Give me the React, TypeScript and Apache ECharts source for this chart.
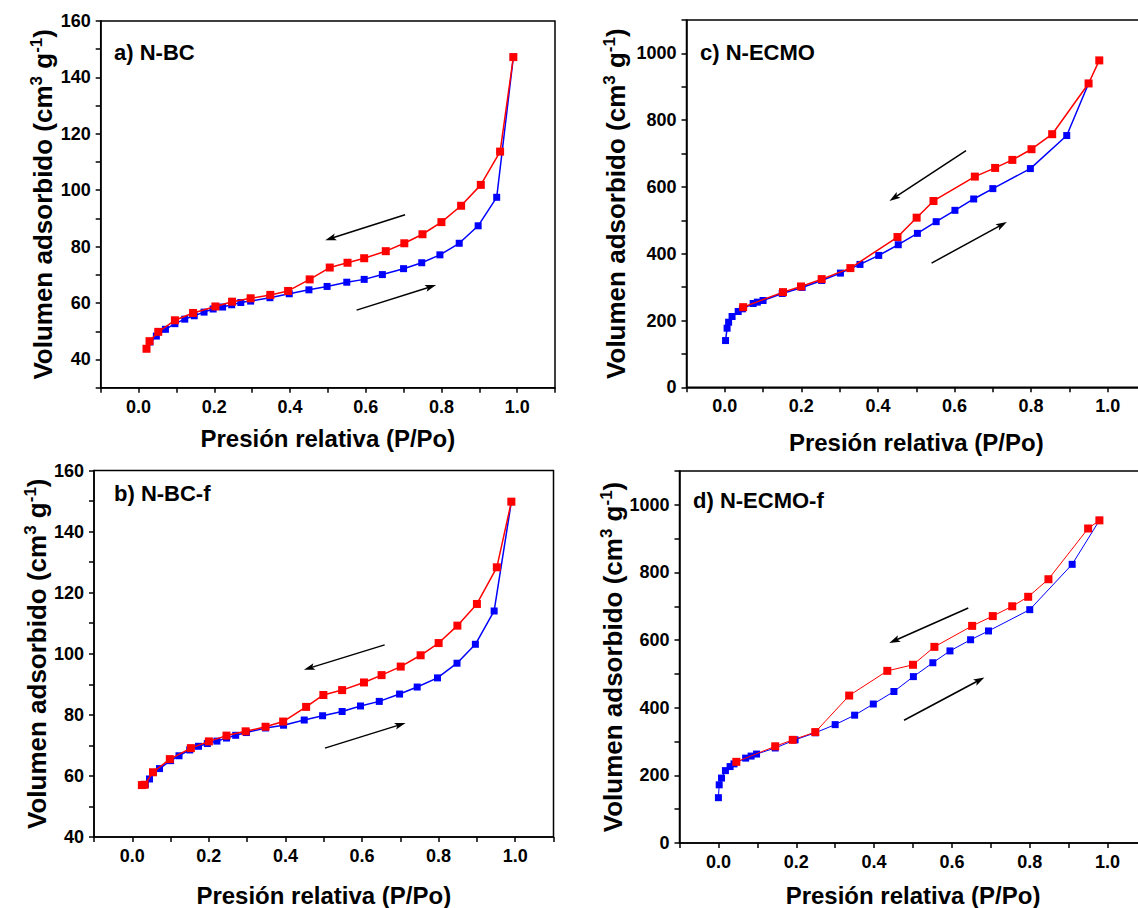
import React, { useEffect, useRef } from "react";
import * as echarts from "echarts";

// ---------- DATA (P/Po, volume adsorbed cm3/g) ----------
const nbcAds = [
  [0.030, 46.2], [0.047, 48.3], [0.071, 50.7], [0.096, 52.7], [0.122, 54.3], [0.147, 55.5],
  [0.173, 56.8], [0.197, 57.9], [0.222, 58.6], [0.246, 59.4], [0.270, 60.2], [0.296, 60.7],
  [0.347, 61.9], [0.398, 63.3], [0.450, 64.7], [0.498, 65.9], [0.550, 67.4], [0.596, 68.4],
  [0.644, 70.1], [0.700, 72.2], [0.748, 74.3], [0.796, 77.1], [0.847, 81.2], [0.897, 87.4],
  [0.946, 97.5], [0.990, 147.2],
];
const nbcDes = [
  [0.990, 147.2], [0.955, 113.7], [0.904, 101.9], [0.852, 94.5], [0.800, 88.7], [0.750, 84.4],
  [0.702, 81.2], [0.653, 78.4], [0.596, 75.9], [0.552, 74.3], [0.505, 72.6], [0.452, 68.4],
  [0.395, 64.3], [0.348, 62.9], [0.296, 61.7], [0.247, 60.5], [0.203, 58.8], [0.144, 56.5],
  [0.096, 53.9], [0.052, 49.8], [0.029, 46.5], [0.021, 43.8],
];
const nbcfAds = [
  [0.034, 57.2], [0.045, 59.0], [0.071, 62.4], [0.100, 65.0], [0.122, 66.6], [0.150, 68.5],
  [0.173, 69.7], [0.196, 70.6], [0.221, 71.4], [0.246, 72.4], [0.270, 73.3], [0.298, 74.2],
  [0.348, 75.7], [0.395, 76.6], [0.449, 78.3], [0.497, 79.7], [0.548, 81.1], [0.596, 82.9],
  [0.645, 84.4], [0.698, 86.8], [0.744, 89.1], [0.797, 92.1], [0.848, 96.9], [0.896, 103.1],
  [0.945, 114.0], [0.990, 149.8],
];
const nbcfDes = [
  [0.990, 149.8], [0.952, 128.3], [0.900, 116.3], [0.849, 109.2], [0.800, 103.5], [0.753, 99.5],
  [0.701, 95.8], [0.651, 93.0], [0.605, 90.6], [0.548, 88.1], [0.499, 86.5], [0.454, 82.6],
  [0.394, 77.8], [0.348, 76.1], [0.296, 74.6], [0.246, 73.2], [0.200, 71.3], [0.153, 69.1],
  [0.098, 65.5], [0.054, 61.2], [0.032, 57.1], [0.025, 57.0],
];
const ecmoAds = [
  [0.002, 140], [0.006, 177], [0.010, 195], [0.019, 212], [0.035, 227], [0.046, 235],
  [0.074, 251], [0.085, 255], [0.100, 260], [0.150, 281], [0.202, 299], [0.253, 320],
  [0.302, 342], [0.353, 368], [0.402, 395], [0.453, 427], [0.503, 461], [0.552, 496],
  [0.601, 530], [0.650, 564], [0.700, 595], [0.798, 655], [0.893, 754], [0.950, 910],
];
const ecmoDes = [
  [0.978, 979], [0.950, 910], [0.855, 758], [0.801, 713], [0.751, 681], [0.706, 657],
  [0.653, 631], [0.545, 558], [0.501, 508], [0.451, 450], [0.328, 357], [0.253, 324],
  [0.199, 302], [0.152, 285], [0.048, 240],
];
const ecmofAds = [
  [0.000, 134], [0.002, 172], [0.008, 192], [0.018, 214], [0.030, 226], [0.040, 234],
  [0.070, 251], [0.084, 257], [0.098, 263], [0.146, 281], [0.197, 305], [0.249, 326],
  [0.300, 350], [0.350, 378], [0.398, 411], [0.451, 448], [0.501, 492], [0.551, 533],
  [0.595, 568], [0.648, 601], [0.694, 627], [0.800, 690], [0.909, 824], [0.979, 954],
];
const ecmofDes = [
  [0.979, 954], [0.950, 930], [0.848, 780], [0.796, 728], [0.755, 700], [0.705, 671],
  [0.652, 642], [0.555, 580], [0.500, 527], [0.434, 509], [0.336, 436], [0.249, 328],
  [0.191, 305], [0.146, 286], [0.046, 240],
];

// arrows: [x1, y1, x2, y2] in data coordinates (arrow head at x2,y2)
const nbcArrows = [[0.704, 91.3, 0.507, 82.9], [0.576, 57.5, 0.772, 65.8]];
const nbcfArrows = [[0.659, 102.9, 0.462, 95.3], [0.503, 69.1, 0.700, 76.8]];
const ecmoArrows = [[0.630, 709, 0.442, 567], [0.540, 372, 0.724, 487]];
const ecmofArrows = [[0.642, 695, 0.452, 598], [0.477, 363, 0.671, 482]];

const panelLabels = ["a) N-BC", "b) N-BC-f", "c) N-ECMO", "d) N-ECMO-f"];
const xTitle = "Presión relativa (P/Po)";
const yTitle = "{m|Volumen adsorbido (cm}{s|3}{m| g}{s|-1}{m|)}";

// ---------- LAYOUT ----------
const FONT = "'Liberation Sans', Arial, Helvetica, sans-serif";
const ARROW = "path://M5,0L10,18L5,14L0,18Z";

const panels = [
  { ads: nbcAds, des: nbcDes, arrows: nbcArrows, label: panelLabels[0],
    grid: { left: 100.7, top: 21, width: 454.3, height: 366.7 },
    yMin: 30, yMax: 160, yInt: 10, yStep: 20, xGap: 39, yGap: 43, lw: 1.5,
    labelPos: { left: 114, top: 41 } },
  { ads: nbcfAds, des: nbcfDes, arrows: nbcfArrows, label: panelLabels[1],
    grid: { left: 94, top: 470.5, width: 459.5, height: 366.8 },
    yMin: 40, yMax: 160, yInt: 10, yStep: 20, xGap: 46, yGap: 37, lw: 1.5,
    labelPos: { left: 114, top: 482 } },
  { ads: ecmoAds, des: ecmoDes, arrows: ecmoArrows, label: panelLabels[2],
    grid: { left: 686.5, top: 20, width: 459.5, height: 367.3 },
    yMin: 0, yMax: 1100, yInt: 100, yStep: 200, xGap: 43, yGap: 56, lw: 1.5,
    labelPos: { left: 700, top: 41 } },
  { ads: ecmofAds, des: ecmofDes, arrows: ecmofArrows, label: panelLabels[3],
    grid: { left: 679.5, top: 471, width: 467, height: 372.3 },
    yMin: 0, yMax: 1100, yInt: 100, yStep: 200, xGap: 40, yGap: 50, lw: 1,
    labelPos: { left: 693, top: 489 } },
];

function buildOption() {
  const grid: any[] = [];
  const xAxis: any[] = [];
  const yAxis: any[] = [];
  const series: any[] = [];
  const title: any[] = [];

  panels.forEach((p, i) => {
    grid.push({ ...p.grid, show: true, borderColor: "#000", borderWidth: 1.5, containLabel: false });
    xAxis.push({
      type: "value", gridIndex: i, min: -0.1, max: 1.1, interval: 0.1,
      name: xTitle, nameLocation: "middle", nameGap: p.xGap,
      nameTextStyle: { fontSize: 24, fontWeight: "bold", color: "#000", fontFamily: FONT },
      axisLine: { show: true, onZero: false, lineStyle: { color: "#000", width: 1.5 } },
      axisTick: { show: true, inside: false, length: 5, lineStyle: { color: "#000", width: 1.5 } },
      splitLine: { show: false },
      axisLabel: {
        margin: 10, fontSize: 18, fontWeight: "bold", color: "#000", fontFamily: FONT,
        formatter: (v: number) => {
          const r = Math.round(v * 10);
          if (r < 0 || r > 10 || r % 2 !== 0) return "";
          return (r / 10).toFixed(1);
        },
      },
    });
    yAxis.push({
      type: "value", gridIndex: i, min: p.yMin, max: p.yMax, interval: p.yInt,
      name: yTitle, nameLocation: "middle", nameGap: p.yGap, nameRotate: 90,
      nameTextStyle: {
        color: "#000",
        rich: {
          m: { fontSize: 26, fontWeight: "bold", color: "#000", fontFamily: FONT, lineHeight: 30 },
          s: { fontSize: 17, fontWeight: "bold", color: "#000", fontFamily: FONT, lineHeight: 16, verticalAlign: "top" },
        },
      },
      axisLine: { show: true, onZero: false, lineStyle: { color: "#000", width: 1.5 } },
      axisTick: { show: true, inside: false, length: 5, lineStyle: { color: "#000", width: 1.5 } },
      splitLine: { show: false },
      axisLabel: {
        margin: 10, fontSize: 18, fontWeight: "bold", color: "#000", fontFamily: FONT,
        formatter: (v: number) => {
          const r = Math.round(v);
          if (r % p.yStep !== 0 || r > (p.yMax === 1100 ? 1000 : 160) || r < (p.yMin === 30 ? 40 : p.yMin)) return "";
          return String(r);
        },
      },
    });
    series.push({
      type: "line", xAxisIndex: i, yAxisIndex: i, data: p.ads,
      symbol: "rect", symbolSize: 7, showSymbol: true,
      itemStyle: { color: "#0000FF" }, lineStyle: { color: "#0000FF", width: p.lw }, z: 2,
    });
    series.push({
      type: "line", xAxisIndex: i, yAxisIndex: i, data: p.des,
      symbol: "rect", symbolSize: 8, showSymbol: true,
      itemStyle: { color: "#FF0000" }, lineStyle: { color: "#FF0000", width: p.lw }, z: 3,
      markLine: {
        silent: true, animation: false,
        symbol: ["none", ARROW], symbolSize: 10,
        itemStyle: { color: "#000" },
        label: { show: false },
        lineStyle: { color: "#000", width: 1.5, type: "solid" },
        data: p.arrows.map((a) => [
          { coord: [a[0], a[1]], symbol: "none" },
          { coord: [a[2], a[3]], symbol: ARROW, symbolSize: [7, 11] },
        ]),
      },
    });
    title.push({
      text: p.label, left: p.labelPos.left, top: p.labelPos.top, padding: 0,
      textStyle: { fontSize: 22, fontWeight: "bold", color: "#000", fontFamily: FONT },
    });
  });

  return { animation: false, backgroundColor: "#fff", title, grid, xAxis, yAxis, series };
}

export default function App() {
  const ref = useRef<HTMLDivElement>(null);
  useEffect(() => {
    if (!ref.current) return;
    const chart = echarts.init(ref.current, undefined, { renderer: "svg" });
    chart.setOption(buildOption() as any);
    return () => chart.dispose();
  }, []);
  return (
    <div style={{ position: "fixed", left: 0, top: 0, width: 1138, height: 908, overflow: "hidden", background: "#fff" }}>
      <div ref={ref} style={{ width: 1160, height: 908 }} />
    </div>
  );
}
